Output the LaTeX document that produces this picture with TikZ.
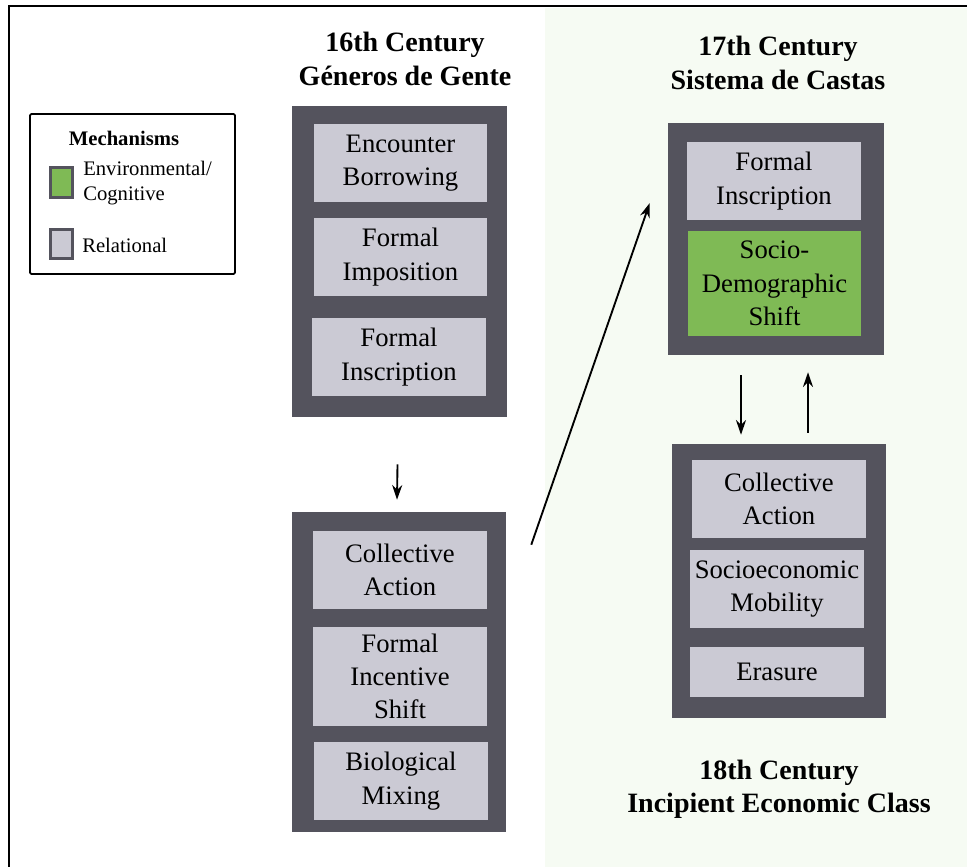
\documentclass[tikz,border=0pt]{standalone}
\usepackage{fontspec}
\setmainfont{Liberation Serif}
\usetikzlibrary{arrows.meta,calc}

\definecolor{darkbox}{HTML}{54535D}
\definecolor{relbox}{HTML}{CBCAD4}
\definecolor{envbox}{HTML}{7FBA55}
\definecolor{paletint}{HTML}{F6FBF3}

\begin{document}
\begin{tikzpicture}[x=0.75pt, y=-0.75pt,
    stage/.style={fill=darkbox, inner sep=0pt},
    mech/.style={fill=relbox, minimum width=130pt, minimum height=58.5pt, inner sep=0pt,
      align=center, font=\fontsize{20}{25}\selectfont},
    envmech/.style={mech, fill=envbox},
    period/.style={align=center, font=\fontsize{21}{25}\selectfont\bfseries},
    link/.style={line width=1.4pt, -{Stealth[length=11pt, width=7.5pt]}}]
  \useasboundingbox (0,0) rectangle (967,867);
  \fill[paletint] (545,8) rectangle (967,867);
  \draw[line width=1.6pt] (9,867) -- (9,6) -- (967,6);

  % legend
  \node[draw, line width=1.3pt, rounded corners=1pt, minimum width=153.75pt, minimum height=120pt] (legend) at (132.5,194) {};
  \node[font=\fontsize{15.5}{18.75}\selectfont\bfseries] (legtitle) at (124,138) {Mechanisms};
  \node[fill=envbox, draw=darkbox, line width=2.5pt, minimum width=16.5pt, minimum height=22.5pt] (envkey) at (61.5,182.5) {};
  \node[anchor=west, align=left, inner sep=0pt, font=\fontsize{15.5}{18.75}\selectfont] (envtext) at (83,183) {Environmental/\\Cognitive};
  \node[fill=relbox, draw=darkbox, line width=2.5pt, minimum width=16.5pt, minimum height=21.75pt] (relkey) at (61.5,244) {};
  \node[anchor=west, inner sep=0pt, font=\fontsize{15.5}{18.75}\selectfont] (reltext) at (82,245) {Relational};

  % periods
  \node[period] (head16) at (405,59) {16th Century\\Géneros de Gente};
  \node[period] (head17) at (778,63) {17th Century\\Sistema de Castas};
  \node[period] (head18) at (779,789) {18th Century\\Incipient Economic Class};

  % 16th century
  \node[stage, minimum width=161.25pt, minimum height=233.25pt] (boxA) at (399.5,261.5) {};
  \node[mech] (encounter) at (400.5,163) {Encounter\\Borrowing};
  \node[mech] (imposition) at (400.5,257) {Formal\\Imposition};
  \node[mech] (inscriptionA) at (399,357) {Formal\\Inscription};

  \node[stage, minimum width=160.5pt, minimum height=240pt] (boxB) at (399,672) {};
  \node[mech] (actionB) at (400,570) {Collective\\Action};
  \node[mech, minimum height=74.25pt] (incentive) at (400,676.5) {Formal\\Incentive\\Shift};
  \node[mech] (mixing) at (401,781) {Biological\\Mixing};

  % 17th century
  \node[stage, minimum width=162pt, minimum height=174pt] (boxC) at (776,239) {};
  \node[mech] (inscriptionC) at (774,181) {Formal\\Inscription};
  \node[envmech, minimum height=78.75pt] (sociodemo) at (774.5,283.5) {Socio-\\Demographic\\Shift};

  % 18th century
  \node[stage, minimum width=160.5pt, minimum height=205.5pt] (boxD) at (779,581) {};
  \node[mech] (actionD) at (779,499) {Collective\\Action};
  \node[mech] (mobility) at (777,589) {Socioeconomic\\Mobility};
  \node[mech, minimum height=37.5pt] (erasure) at (777,672) {Erasure};

  \draw[link] ($(boxA.south)+(-2,47)$) -- ($(boxB.north)+(-2,-12)$);
  \draw[link] ($(boxB.north east)+(25,33)$) -- ($(boxC.west)+(-18,-36)$);
  \draw[link] ($(boxC.south)+(-35,20)$) -- ($(boxD.north)+(-38,-9)$);
  \draw[link] ($(boxD.north)+(29,-11)$) -- ($(boxC.south)+(32,17)$);
\end{tikzpicture}
\end{document}
